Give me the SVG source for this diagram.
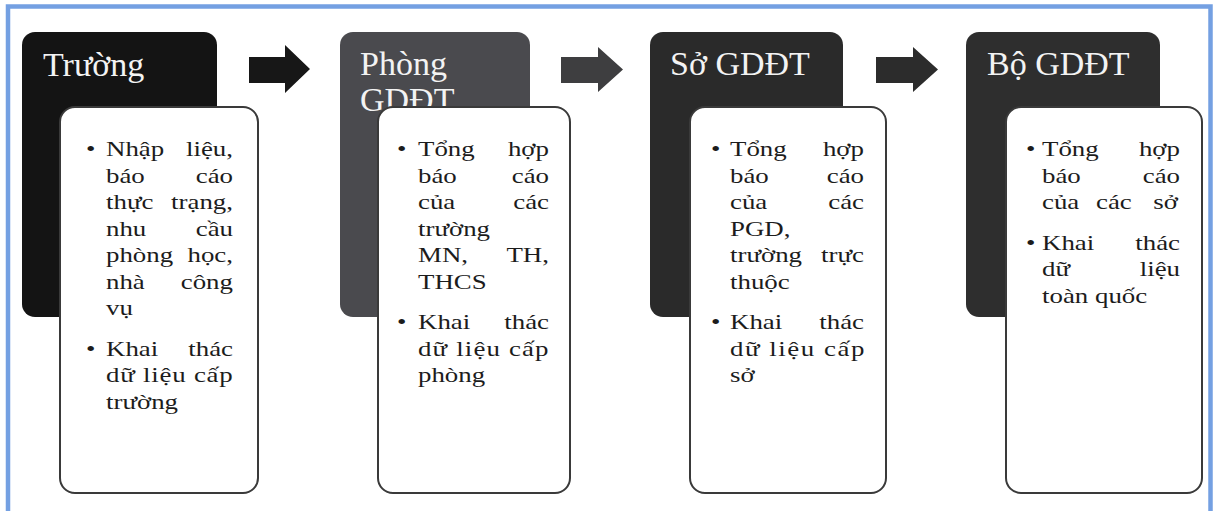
<svg xmlns="http://www.w3.org/2000/svg" width="1214" height="511" viewBox="0 0 1214 511">
<style>
.dark{stroke:none}
.card{fill:#ffffff;stroke:#3a3a3a;stroke-width:2}
.t{font-family:"Liberation Serif","Times New Roman",serif;font-size:34px;fill:#f3f3f3}
.b{font-family:"Liberation Serif","Times New Roman",serif;font-size:21px;fill:#1c1c1c}
.e{text-anchor:end}
.arr{stroke:none}
</style>
<rect x="0" y="0" width="1214" height="511" fill="#ffffff"/>
<rect x="8" y="6.5" width="1202.5" height="530" fill="none" stroke="#74a0e2" stroke-width="4.5"/>

<g id="connectors">
<polygon class="arr" fill="#171717" points="249,57 285,57 285,45 310,69 285,93 285,83 249,83"/>
<polygon class="arr" fill="#3e3e40" points="561,57 598,57 598,47 623,69.5 598,92 598,83 561,83"/>
<polygon class="arr" fill="#2c2c2c" points="876,57 913,57 913,47 938,69.5 913,92 913,83 876,83"/>
</g>

<g id="node-truong">
<rect class="dark" x="22" y="32" width="195" height="285" rx="13" fill="#141414"/>
<text class="t" x="43" y="76">Trường</text>
<rect class="card" x="60" y="107" width="198" height="386" rx="15"/>
<text class="b" transform="translate(86 156) scale(1.28 1)">•</text>
<text class="b" transform="translate(106 156) scale(1.28 1)">Nhập</text>
<text class="b e" transform="translate(233 156) scale(1.28 1)">liệu,</text>
<text class="b" transform="translate(106 182.5) scale(1.28 1)">báo</text>
<text class="b e" transform="translate(233 182.5) scale(1.28 1)">cáo</text>
<text class="b" transform="translate(106 209) scale(1.28 1)">thực</text>
<text class="b e" transform="translate(233 209) scale(1.28 1)">trạng,</text>
<text class="b" transform="translate(106 235.5) scale(1.28 1)">nhu</text>
<text class="b e" transform="translate(233 235.5) scale(1.28 1)">cầu</text>
<text class="b" transform="translate(106 262) scale(1.28 1)">phòng</text>
<text class="b e" transform="translate(233 262) scale(1.28 1)">học,</text>
<text class="b" transform="translate(106 288.5) scale(1.28 1)">nhà</text>
<text class="b e" transform="translate(233 288.5) scale(1.28 1)">công</text>
<text class="b" transform="translate(106 315) scale(1.28 1)">vụ</text>
<text class="b" transform="translate(86 355.5) scale(1.28 1)">•</text>
<text class="b" transform="translate(106 355.5) scale(1.28 1)">Khai</text>
<text class="b e" transform="translate(233 355.5) scale(1.28 1)">thác</text>
<text class="b" transform="translate(106 382) scale(1.28 1)" textLength="99" lengthAdjust="spacing">dữ liệu cấp</text>
<text class="b" transform="translate(106 408.5) scale(1.28 1)">trường</text>
</g>

<g id="node-phong">
<rect class="dark" x="340" y="32" width="190" height="285" rx="13" fill="#4a4a4e"/>
<text class="t" x="360" y="75">Phòng</text>
<text class="t" x="360" y="111">GDĐT</text>
<rect class="card" x="378" y="107" width="192" height="386" rx="15"/>
<text class="b" transform="translate(397 156) scale(1.28 1)">•</text>
<text class="b" transform="translate(418 156) scale(1.28 1)">Tổng</text>
<text class="b e" transform="translate(549 156) scale(1.28 1)">hợp</text>
<text class="b" transform="translate(418 182.5) scale(1.28 1)">báo</text>
<text class="b e" transform="translate(549 182.5) scale(1.28 1)">cáo</text>
<text class="b" transform="translate(418 209) scale(1.28 1)">của</text>
<text class="b e" transform="translate(549 209) scale(1.28 1)">các</text>
<text class="b" transform="translate(418 235.5) scale(1.28 1)">trường</text>
<text class="b" transform="translate(418 262) scale(1.28 1)">MN,</text>
<text class="b e" transform="translate(549 262) scale(1.28 1)">TH,</text>
<text class="b" transform="translate(418 288.5) scale(1.28 1)">THCS</text>
<text class="b" transform="translate(397 329) scale(1.28 1)">•</text>
<text class="b" transform="translate(418 329) scale(1.28 1)">Khai</text>
<text class="b e" transform="translate(549 329) scale(1.28 1)">thác</text>
<text class="b" transform="translate(418 355.5) scale(1.28 1)" textLength="102" lengthAdjust="spacing">dữ liệu cấp</text>
<text class="b" transform="translate(418 382) scale(1.28 1)">phòng</text>
</g>

<g id="node-so">
<rect class="dark" x="650" y="32" width="193" height="285" rx="13" fill="#2a2a2a"/>
<text class="t" x="670" y="75">Sở GDĐT</text>
<rect class="card" x="690" y="107" width="196" height="386" rx="15"/>
<text class="b" transform="translate(711 156) scale(1.28 1)">•</text>
<text class="b" transform="translate(730 156) scale(1.28 1)">Tổng</text>
<text class="b e" transform="translate(864 156) scale(1.28 1)">hợp</text>
<text class="b" transform="translate(730 182.5) scale(1.28 1)">báo</text>
<text class="b e" transform="translate(864 182.5) scale(1.28 1)">cáo</text>
<text class="b" transform="translate(730 209) scale(1.28 1)">của</text>
<text class="b e" transform="translate(864 209) scale(1.28 1)">các</text>
<text class="b" transform="translate(730 235.5) scale(1.28 1)">PGD,</text>
<text class="b" transform="translate(730 262) scale(1.28 1)">trường</text>
<text class="b e" transform="translate(864 262) scale(1.28 1)">trực</text>
<text class="b" transform="translate(730 288.5) scale(1.28 1)">thuộc</text>
<text class="b" transform="translate(711 329) scale(1.28 1)">•</text>
<text class="b" transform="translate(730 329) scale(1.28 1)">Khai</text>
<text class="b e" transform="translate(864 329) scale(1.28 1)">thác</text>
<text class="b" transform="translate(730 355.5) scale(1.28 1)" textLength="105" lengthAdjust="spacing">dữ liệu cấp</text>
<text class="b" transform="translate(730 382) scale(1.28 1)">sở</text>
</g>

<g id="node-bo">
<rect class="dark" x="966" y="32" width="194" height="285" rx="13" fill="#2e2e2e"/>
<text class="t" x="987" y="75">Bộ GDĐT</text>
<rect class="card" x="1006" y="107" width="196" height="386" rx="15"/>
<text class="b" transform="translate(1026 156) scale(1.28 1)">•</text>
<text class="b" transform="translate(1042 156) scale(1.28 1)">Tổng</text>
<text class="b e" transform="translate(1180 156) scale(1.28 1)">hợp</text>
<text class="b" transform="translate(1042 182.5) scale(1.28 1)">báo</text>
<text class="b e" transform="translate(1180 182.5) scale(1.28 1)">cáo</text>
<text class="b" transform="translate(1042 209) scale(1.28 1)">của</text>
<text class="b" transform="translate(1096 209) scale(1.28 1)">các</text>
<text class="b e" transform="translate(1178 209) scale(1.28 1)">sở</text>
<text class="b" transform="translate(1026 249.5) scale(1.28 1)">•</text>
<text class="b" transform="translate(1042 249.5) scale(1.28 1)">Khai</text>
<text class="b e" transform="translate(1180 249.5) scale(1.28 1)">thác</text>
<text class="b" transform="translate(1042 276) scale(1.28 1)">dữ</text>
<text class="b e" transform="translate(1180 276) scale(1.28 1)">liệu</text>
<text class="b" transform="translate(1042 302.5) scale(1.28 1)">toàn quốc</text>
</g>
</svg>
